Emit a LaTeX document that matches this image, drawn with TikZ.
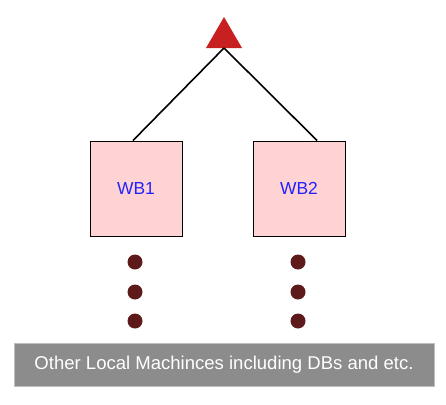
\documentclass[tikz,border=0pt]{standalone}
\usepackage{fontspec}
\setmainfont{Liberation Sans}
\usetikzlibrary{shapes.geometric}
\definecolor{tri}{HTML}{C82020}
\definecolor{boxfill}{HTML}{FFD3D3}
\definecolor{dotc}{HTML}{5E1A1A}
\definecolor{bar}{HTML}{8C8C8C}
\definecolor{wbtext}{HTML}{2222FF}
\begin{document}
\begin{tikzpicture}[x=1bp,y=-1bp,
  wbbox/.style={draw=black,line width=1bp,fill=boxfill,minimum width=92bp,minimum height=95bp,inner sep=0pt,text=wbtext,font=\fontsize{17.5}{20}\selectfont},
  dotn/.style={circle,fill=dotc,minimum size=15bp,inner sep=0pt},
  link/.style={draw=black,line width=1.6bp}]
\useasboundingbox (0,0) rectangle (446,404);
\fill[tri] (224,17) -- (242,48) -- (206,48) -- cycle;
\coordinate (top) at (224,48);
\node[wbbox] (wb1) at (136,188.5) {WB1};
\node[wbbox] (wb2) at (299,188.5) {WB2};
\draw[link] (top) -- (wb1.north -| 133,0);
\draw[link] (top) -- (wb2.north -| 317,0);
\foreach \y [count=\i] in {262,292,321}{
  \node[dotn] (l\i) at (135,\y) {};
  \node[dotn] (r\i) at (298,\y) {};
}
\node[fill=bar,draw=black!25,line width=0.8bp,minimum width=420bp,minimum height=43bp,inner sep=0pt,text=white,font=\fontsize{18.6}{20}\selectfont] (others) at (224,364.5) {Other Local Machinces including DBs and etc.};
\end{tikzpicture}
\end{document}
